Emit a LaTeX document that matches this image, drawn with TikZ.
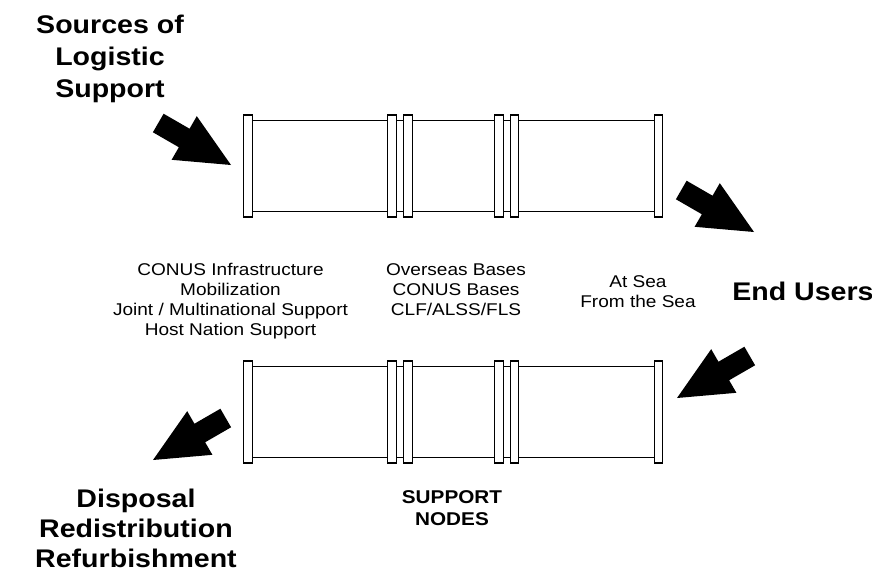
\documentclass[tikz,border=0pt]{standalone}
\usepackage{fontspec}
\setmainfont{Liberation Sans}[FakeStretch=1.12]
\usepackage{tikz}
\usetikzlibrary{shapes.arrows,positioning}

\tikzset{
	flange/.style={draw,fill=white,line width=1.3pt,minimum width=8.5pt,minimum height=102pt,inner sep=0pt},
	pipeline/.style={line width=1.2pt},
	fatarrow/.style={single arrow,fill=black,inner sep=10.5pt,minimum height=84pt,single arrow head extend=14.5pt,single arrow tip angle=50,outer sep=0pt},
	listtext/.style={align=center,inner sep=0pt,anchor=north,font=\fontsize{17}{20}\selectfont},
	headtext/.style={align=center,inner sep=0pt,anchor=north,font=\bfseries\fontsize{25.5}{32}\selectfont}
}

\begin{document}
\begin{tikzpicture}[x=1pt,y=-1pt]
	\useasboundingbox (0,0) rectangle (872,573);
	\foreach \row/\yc in {t/166,b/412}{
		\foreach \i/\xc in {1/248,2/392,3/408,4/499,5/514.5,6/658.5}
			\node[flange] (\row\i) at (\xc,\yc) {};
		\foreach \a/\b in {1/2,2/3,3/4,4/5,5/6}{
			\draw[pipeline] ([yshift=-6pt]\row\a.north east) -- ([yshift=-6pt]\row\b.north west);
			\draw[pipeline] ([yshift=6pt]\row\a.south east) -- ([yshift=6pt]\row\b.south west);
		}
	}
		\node[fatarrow,rotate=-30,anchor=tip] (inflow) at (231,165) {};
		\node[fatarrow,rotate=-30,anchor=tip] (outflow) at (754,232) {};
		\node[fatarrow,rotate=-150,anchor=tip] (returnflow) at (677,398) {};
		\node[fatarrow,rotate=-150,anchor=tip] (disposalflow) at (153,460) {};
	\node[headtext] (sources) at (110,15) {Sources of\\Logistic\\Support};
	\node[listtext] (landlist) at (230.5,263) {CONUS Infrastructure\\Mobilization\\Joint / Multinational Support\\Host Nation Support};
	\node[listtext] (baselist) at (456,263) {Overseas Bases\\CONUS Bases\\CLF/ALSS/FLS};
	\node[listtext] (sealist) at (638,275) {At Sea\\From the Sea};
	\node[headtext] (endusers) at (803,282) {End Users};
	\node[headtext,font=\bfseries\fontsize{18.5}{22}\selectfont] (supportnodes) at (452,490) {SUPPORT\\NODES};
	\node[headtext,font=\bfseries\fontsize{25.5}{30}\selectfont] (disposal) at (136,489) {Disposal\\Redistribution\\Refurbishment};
\end{tikzpicture}
\end{document}
